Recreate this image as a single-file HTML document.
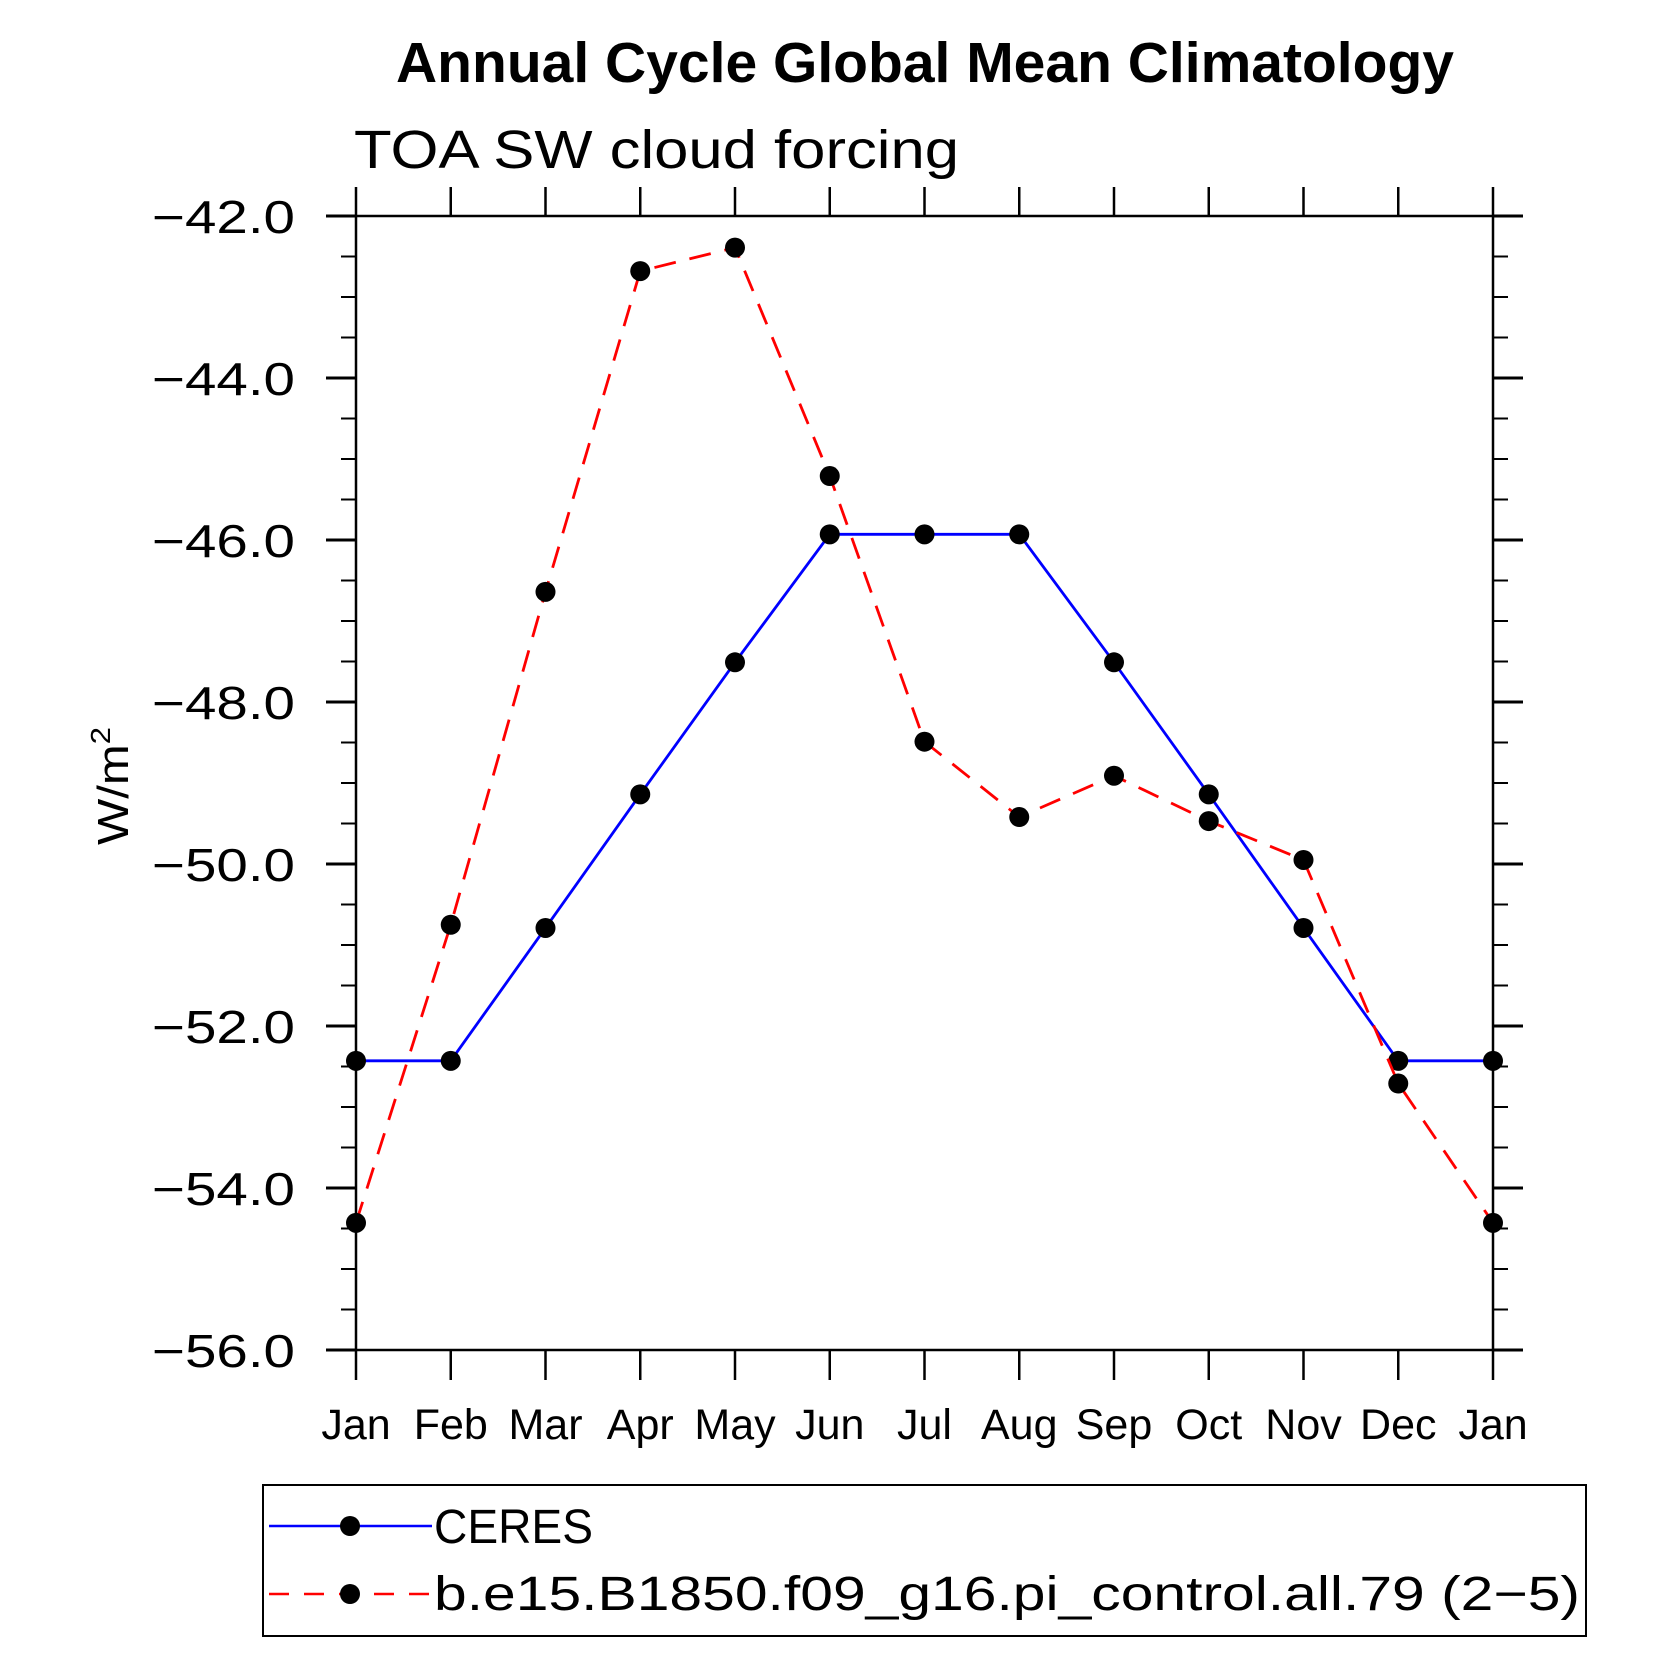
<!DOCTYPE html>
<html><head><meta charset="utf-8"><style>html,body{margin:0;padding:0;background:#fff}svg{display:block}</style></head>
<body>
<svg id="chart" width="1674" height="1674" viewBox="0 0 1674 1674" xmlns="http://www.w3.org/2000/svg" font-family="'Liberation Sans', sans-serif">
<text x="396" y="82" font-size="57" font-weight="bold" textLength="1058" lengthAdjust="spacingAndGlyphs">Annual Cycle Global Mean Climatology</text>
<text x="354" y="168" font-size="54" textLength="605" lengthAdjust="spacingAndGlyphs" fill="#000">TOA SW cloud forcing</text>
<text transform="translate(128,786) rotate(-90)" text-anchor="middle" font-size="44" textLength="118" lengthAdjust="spacingAndGlyphs">W/m<tspan font-size="28" dy="-18">2</tspan></text>
<g id="axes"></g>
<g id="series"></g>
<g>
<rect x="263" y="1485" width="1323" height="151" fill="none" stroke="#000" stroke-width="2"/>
<line x1="269" y1="1526" x2="432" y2="1526" stroke="#0000ff" stroke-width="2.5"/>
<circle cx="350" cy="1526" r="10"/>
<text x="434" y="1543" font-size="48" textLength="159" lengthAdjust="spacingAndGlyphs">CERES</text>
<line x1="269" y1="1594" x2="432" y2="1594" stroke="#ff0000" stroke-width="2.5" stroke-dasharray="20,15"/>
<circle cx="350" cy="1594" r="10"/>
<text x="434" y="1610" font-size="48" textLength="1146" lengthAdjust="spacingAndGlyphs">b.e15.B1850.f09_g16.pi_control.all.79 (2−5)</text>
</g>
</svg>
<script>
const months = ["Jan","Feb","Mar","Apr","May","Jun","Jul","Aug","Sep","Oct","Nov","Dec","Jan"];
const ceres = [-52.43,-52.43,-50.79,-49.14,-47.51,-45.93,-45.93,-45.93,-47.51,-49.14,-50.79,-52.43,-52.43];
const model = [-54.43,-50.75,-46.64,-42.68,-42.39,-45.21,-48.49,-49.42,-48.91,-49.47,-49.95,-52.71,-54.43];
const yTicks = [-42,-44,-46,-48,-50,-52,-54,-56];
const yTickLabels = ["−42.0","−44.0","−46.0","−48.0","−50.0","−52.0","−54.0","−56.0"];

const L=356,R=1493,T=216,B=1350,yMin=-56,yMax=-42;
const xs=i=>L+(R-L)*i/(months.length-1);
const ys=v=>B-(v-yMin)/(yMax-yMin)*(B-T);
const NS="http://www.w3.org/2000/svg";
function mk(tag,attrs,parent){const e=document.createElementNS(NS,tag);for(const k in attrs)e.setAttribute(k,attrs[k]);parent.appendChild(e);return e;}
const ax=document.getElementById('axes');
let frame=mk('rect',{x:L,y:T,width:R-L,height:B-T,fill:'none',stroke:'#000','stroke-width':2.5},ax);


months.forEach((m,i)=>{
  const x=xs(i);
  let t1=mk('line',{x1:x,y1:B,x2:x,y2:B+30,stroke:'#000','stroke-width':2.5},ax);
  
  
  let t2=mk('line',{x1:x,y1:T,x2:x,y2:T-29,stroke:'#000','stroke-width':2.5},ax);
  
  
  let lb=mk('text',{x:x,y:1439,'text-anchor':'middle','font-size':43},ax);
  lb.textContent=m;
  
  
});
for(let v=yMin;v<=yMax+1e-9;v+=0.5){
  const y=ys(v);const major=Math.abs(v/2-Math.round(v/2))<1e-6;
  const len=major?30:15;
  let a=mk('line',{x1:L-len,y1:y,x2:L,y2:y,stroke:'#000','stroke-width':major?3:2},ax);
  
  
  let b=mk('line',{x1:R,y1:y,x2:R+len,y2:y,stroke:'#000','stroke-width':major?3:2},ax);
  
  
}
yTicks.forEach((v,i)=>{
  let lb=mk('text',{x:295,y:ys(v)+17,'text-anchor':'end','font-size':46,textLength:143,lengthAdjust:'spacingAndGlyphs'},ax);
  lb.textContent=yTickLabels[i];
  
  
});
const sg=document.getElementById('series');
function series(vals,color,dash,name){
  const pts=vals.map((v,i)=>xs(i)+','+ys(v)).join(' ');
  const attrs={points:pts,fill:'none',stroke:color,'stroke-width':2.8};
  if(dash)attrs['stroke-dasharray']=dash;
  let pl=mk('polyline',attrs,sg);
  
  
  vals.forEach((v,i)=>{
    let c=mk('circle',{cx:xs(i),cy:ys(v),r:10,fill:'#000'},sg);
    
    
  });
}
series(ceres,'#0000ff',null,'ceres');
series(model,'#ff0000','22,14','model');
</script>
</body></html>
